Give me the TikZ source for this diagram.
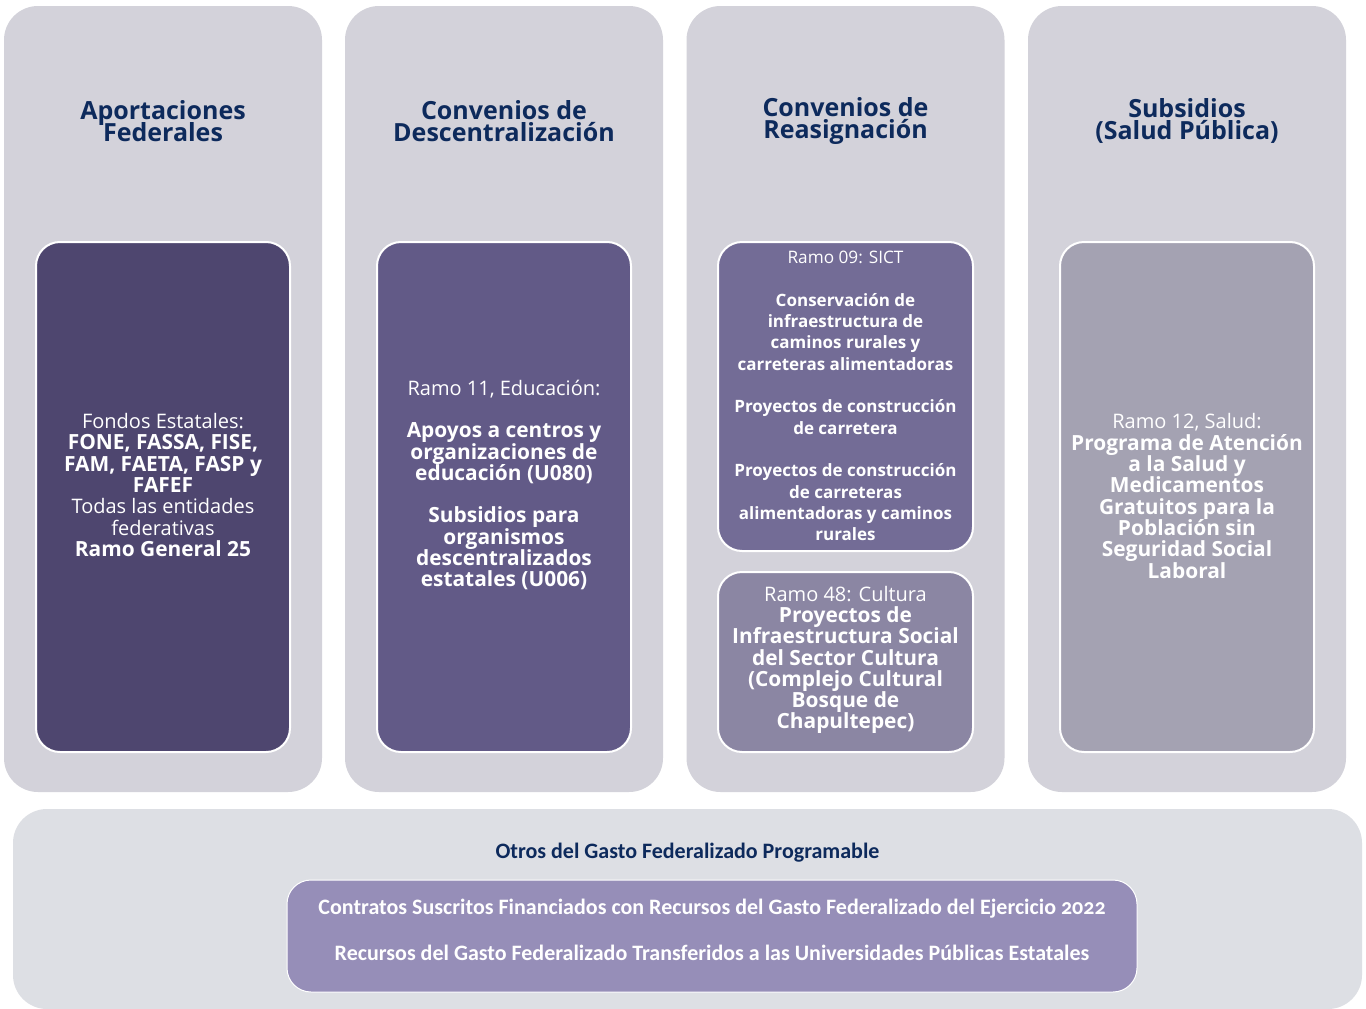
\documentclass[tikz,border=0pt]{standalone}
\usepackage{fontspec}
\setmainfont{Open Sans}
\newfontfamily\calib{Carlito}[Numbers=OldStyle]
\definecolor{navy}{HTML}{0D2A5C}
\definecolor{colbg}{HTML}{D3D2DA}
\definecolor{botbg}{HTML}{DDDFE4}
\definecolor{fillA}{HTML}{4E466F}
\definecolor{fillB}{HTML}{625A87}
\definecolor{fillC}{HTML}{736C96}
\definecolor{fillD}{HTML}{8B86A3}
\definecolor{fillE}{HTML}{A4A2B2}
\definecolor{fillF}{HTML}{968EB8}
% fixed line pitch even where lines would touch
\newcommand{\tightlines}{\lineskiplimit-50pt\relax}
% bold lines slightly larger than the regular lines
\newcommand{\hbline}[1]{{\fontsize{20.9}{21.3}\selectfont\bfseries #1}}
\newcommand{\sbline}[1]{{\fontsize{17}{21.3}\selectfont\bfseries #1}}
\tikzset{
  colbox/.style={rectangle, rounded corners=34pt, fill=colbg, inner sep=0pt},
  innerbox/.style={rectangle, rounded corners=24pt, draw=white, line width=2pt, inner sep=0pt},
  title/.style={align=center, text=navy, font=\fontsize{25}{21.5}\selectfont\bfseries\tightlines},
  body/.style={align=center, text=white, font=\fontsize{20}{21.3}\selectfont\tightlines},
  small/.style={align=center, text=white, font=\fontsize{17.2}{21.3}\selectfont\tightlines},
  botline/.style={align=center, text=white, font=\calib\fontsize{22}{22}\selectfont\bfseries},
}
\begin{document}
\begin{tikzpicture}[x=1pt,y=-1pt]
\useasboundingbox[fill=white] (0,0) rectangle (1366,1009);

% four column panels
\node[colbox, minimum width=318pt, minimum height=786pt] (c1) at (163,399) {};
\node[colbox, minimum width=318pt, minimum height=786pt] (c2) at (504,399) {};
\node[colbox, minimum width=318pt, minimum height=786pt] (c3) at (845.5,399) {};
\node[colbox, minimum width=318pt, minimum height=786pt] (c4) at (1187,399) {};

% column headings
\node[title] (t1) at (163,121) {Aportaciones\\Federales};
\node[title] (t2) at (504,121) {Convenios de\\Descentralización};
\node[title] (t3) at (845.5,121) {Convenios de\\Reasignación};
\node[title] (t4) at (1187,121) {Subsidios\\(Salud Pública)};

% inner program boxes
\node[innerbox, fill=fillA, minimum width=254pt, minimum height=510pt] (b1) at (163,497) {};
\node[innerbox, fill=fillB, minimum width=254pt, minimum height=510pt] (b2) at (504,497) {};
\node[innerbox, fill=fillC, minimum width=255pt, minimum height=309pt] (b3) at (845.5,396.5) {};
\node[innerbox, fill=fillD, minimum width=255pt, minimum height=180pt] (b4) at (845.5,662) {};
\node[innerbox, fill=fillE, minimum width=254pt, minimum height=510pt] (b5) at (1187,497) {};

% texts of the inner boxes
\node[body] (x1) at (163,485) {Fondos Estatales:\\\hbline{FONE, FASSA, FISE,}\\\hbline{FAM, FAETA, FASP y}\\\hbline{FAFEF}\\Todas las entidades\\federativas\\\hbline{Ramo General 25}};
\node[body] (x2) at (504,485) {Ramo 11, Educación:\\[21.3pt]\hbline{Apoyos a centros y}\\\hbline{organizaciones de}\\\hbline{educación (U080)}\\[21.3pt]\hbline{Subsidios para}\\\hbline{organismos}\\\hbline{descentralizados}\\\hbline{estatales (U006)}};
\node[small] (x3) at (845.5,396) {Ramo 09: SICT\\[21.3pt]\sbline{Conservación de}\\\sbline{infraestructura de}\\\sbline{caminos rurales y}\\\sbline{carreteras alimentadoras}\\[21.3pt]\sbline{Proyectos de construcción}\\\sbline{de carretera}\\[21.3pt]\sbline{Proyectos de construcción}\\\sbline{de carreteras}\\\sbline{alimentadoras y caminos}\\\sbline{rurales}};
\node[body] (x4) at (845.5,660) {Ramo 48: Cultura\\\hbline{Proyectos de}\\\hbline{Infraestructura Social}\\\hbline{del Sector Cultura}\\\hbline{(Complejo Cultural}\\\hbline{Bosque de}\\\hbline{Chapultepec)}};
\node[body] (x5) at (1187,496) {Ramo 12, Salud:\\\hbline{Programa de Atención}\\\hbline{a la Salud y}\\\hbline{Medicamentos}\\\hbline{Gratuitos para la}\\\hbline{Población sin}\\\hbline{Seguridad Social}\\\hbline{Laboral}};

% bottom band
\node[rectangle, rounded corners=34pt, fill=botbg, inner sep=0pt, minimum width=1349pt, minimum height=200pt] (bb) at (687.5,909) {};
\node[align=center, text=navy, font=\calib\fontsize{22}{22}\selectfont\bfseries] (bt) at (687.5,853) {Otros del Gasto Federalizado Programable};
\node[rectangle, rounded corners=24pt, draw=white, line width=1pt, fill=fillF, inner sep=0pt, minimum width=850pt, minimum height=112pt] (bi) at (712,936) {};
\node[botline] (bl1) at (712,909) {Contratos Suscritos Financiados con Recursos del Gasto Federalizado del Ejercicio 2022};
\node[botline] (bl2) at (712,953) {Recursos del Gasto Federalizado Transferidos a las Universidades Públicas Estatales};
\end{tikzpicture}
\end{document}
